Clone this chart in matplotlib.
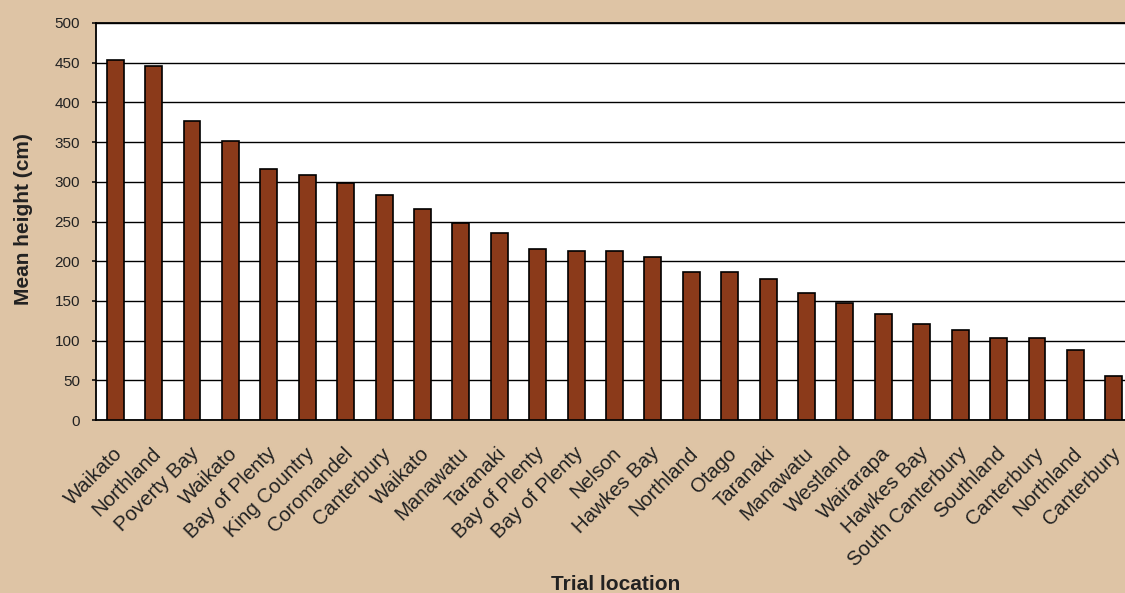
import matplotlib
matplotlib.use("Agg")
import matplotlib.pyplot as plt
import matplotlib.transforms as mtransforms
import numpy as np

plt.rcParams['font.family'] = ['Liberation Sans', 'DejaVu Sans']

locations = ["Waikato", "Northland", "Poverty Bay", "Waikato", "Bay of Plenty",
             "King Country", "Coromandel", "Canterbury", "Waikato", "Manawatu",
             "Taranaki", "Bay of Plenty", "Bay of Plenty", "Nelson", "Hawkes Bay",
             "Northland", "Otago", "Taranaki", "Manawatu", "Westland",
             "Wairarapa", "Hawkes Bay", "South Canterbury", "Southland",
             "Canterbury", "Northland", "Canterbury"]
heights = [453, 446, 377, 352, 316, 309, 298, 284, 266, 248,
           236, 215, 213, 213, 205, 187, 187, 177, 160, 147,
           134, 121, 113, 103, 103, 88, 55]
yticks = [0, 50, 100, 150, 200, 250, 300, 350, 400, 450, 500]

BG = '#DEC4A5'
BAR = '#8B3A1A'
TXT = '#222222'

fig = plt.figure(figsize=(11.25, 5.93), dpi=100, facecolor=BG)
ax = fig.add_axes([96/1125, 1-420/593, (1133-96)/1125, (420-23)/593])
ax.set_facecolor('white')

x = np.arange(len(locations))
ax.bar(x, heights, width=0.44, color=BAR, edgecolor='black', linewidth=1.2, zorder=3)

ax.set_xlim(-0.5, len(locations) - 0.5)
ax.set_ylim(0, 500)
ax.set_yticks(yticks)
ax.set_yticklabels([str(v) for v in yticks], fontsize=11, color=TXT)
ax.yaxis.grid(True, color='black', linewidth=1.0, zorder=0)
ax.set_axisbelow(True)

ax.set_xticks(x)
ax.set_xticklabels(locations, rotation=45, ha='right', va='center',
                   rotation_mode='anchor', fontsize=14.7, color=TXT)
ax.tick_params(axis='x', length=0, pad=22)
shift = mtransforms.ScaledTranslation(4/100, 0, fig.dpi_scale_trans)
for lab in ax.get_xticklabels():
    lab.set_transform(lab.get_transform() + shift)
ax.tick_params(axis='y', length=3, width=1.1, color='black', pad=8.5, direction='out')

for s in ['left', 'bottom', 'top']:
    ax.spines[s].set_color('black')
    ax.spines[s].set_linewidth(1.3)
ax.spines['right'].set_visible(False)

fig.text(23.5/1125, 1-219/593, 'Mean height (cm)', rotation=90, ha='center', va='center',
         fontsize=15, fontweight='bold', color=TXT)
fig.text(615.7/1125, 1-590/593, 'Trial location', ha='center', va='baseline',
         fontsize=15, fontweight='bold', color=TXT)

fig.savefig('out.png', dpi=100, facecolor=BG)
